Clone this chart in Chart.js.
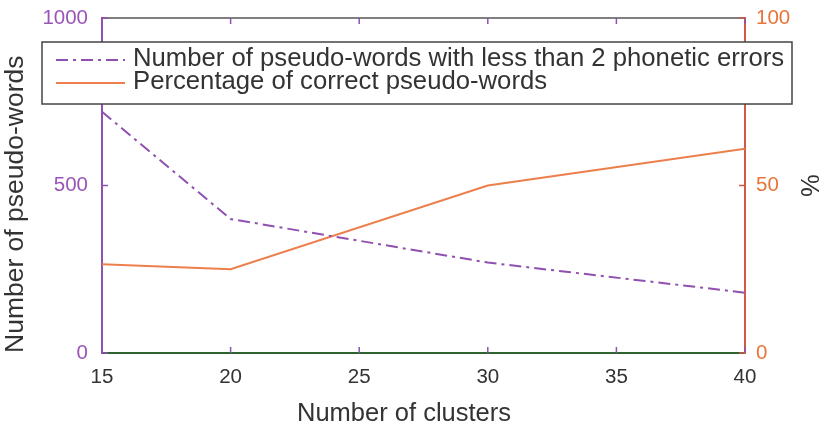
<!DOCTYPE html>
<html>
<head>
<meta charset="utf-8">
<script src="https://cdn.jsdelivr.net/npm/chart.js@4.4.1/dist/chart.umd.min.js"></script>
<style>
  html, body { margin: 0; padding: 0; background: #fff; }
  #wrap { width: 824px; height: 432px; }
</style>
</head>
<body>
<div id="wrap"><canvas id="graphique" width="824" height="432"></canvas></div>
<script>
// values
const clusters = [15, 20, 30, 40];
const pseudoWords = [720, 400, 270, 180];
const pctCorrect = [26.5, 25, 50, 61];

const xTicks = [15, 20, 25, 30, 35, 40];
const leftTicks = [0, 500, 1000];
const rightTicks = [0, 50, 100];

const labelPseudo = "Number of pseudo-words with less than 2 phonetic errors";
const labelPct = "Percentage of correct pseudo-words";
const titleX = "Number of clusters";
const titleLeft = "Number of pseudo-words";
const titleRight = "%";

const violet = "#9050b0";
const violetTxt = "#9a55b8";
const orange = "#ec7f4c";
const orangeAxe = "#cf5a48";
const orangeTxt = "#e8743a";
const vert = "#2f6430";
const gris = "#333333";
const police = "'Liberation Sans', Arial, sans-serif";

Chart.defaults.font.family = police;

function fixTicks(vals) {
  return function (scale) { scale.ticks = vals.map(v => ({ value: v })); };
}

// frame, inward ticks, x title and the boxed legend
const cadre = {
  id: "cadre",
  afterDatasetsDraw(chart) {
    const { ctx, chartArea: a, scales } = chart;
    ctx.save();
    ctx.lineWidth = 1.5;
    ctx.strokeStyle = "#555";
    ctx.beginPath();
    ctx.moveTo(a.left, a.top);
    ctx.lineTo(a.right, a.top);
    ctx.stroke();

    ctx.strokeStyle = violet;
    xTicks.forEach(v => {
      const px = scales.x.getPixelForValue(v);
      ctx.beginPath();
      ctx.moveTo(px, a.bottom); ctx.lineTo(px, a.bottom - 6);
      ctx.moveTo(px, a.top); ctx.lineTo(px, a.top + 6);
      ctx.stroke();
    });
    leftTicks.forEach(v => {
      const py = scales.y.getPixelForValue(v);
      ctx.beginPath();
      ctx.moveTo(a.left, py); ctx.lineTo(a.left + 6, py);
      ctx.stroke();
    });
    ctx.strokeStyle = orangeAxe;
    rightTicks.forEach(v => {
      const py = scales.y2.getPixelForValue(v);
      ctx.beginPath();
      ctx.moveTo(a.right, py); ctx.lineTo(a.right - 6, py);
      ctx.stroke();
    });
    ctx.restore();
  },
  afterDraw(chart) {
    const ctx = chart.ctx;
    const ds = chart.data.datasets;
    ctx.save();
    ctx.fillStyle = gris;
    ctx.font = "25.5px " + police;
    ctx.textAlign = "center";
    ctx.textBaseline = "alphabetic";
    ctx.fillText(titleX, 404, 421);

    // legend box
    ctx.fillStyle = "#fff";
    ctx.fillRect(42, 42, 750, 62);
    ctx.strokeStyle = "#444";
    ctx.lineWidth = 1.5;
    ctx.strokeRect(42, 42, 750, 62);
    ctx.font = "25.7px " + police;
    const rows = [{ y: 60, base: 66 }, { y: 83, base: 89 }];
    ds.forEach((d, i) => {
      ctx.strokeStyle = d.borderColor;
      ctx.lineWidth = d.borderWidth;
      ctx.setLineDash(d.borderDash || []);
      ctx.beginPath();
      ctx.moveTo(56, rows[i].y);
      ctx.lineTo(125, rows[i].y);
      ctx.stroke();
      ctx.setLineDash([]);
      ctx.fillStyle = gris;
      ctx.textAlign = "left";
      ctx.fillText(d.label, 133, rows[i].base);
    });
    ctx.restore();
  }
};

const nombre = v => String(v);

new Chart(document.getElementById("graphique"), {
  type: "line",
  data: {
    datasets: [
      {
        label: labelPseudo,
        data: clusters.map((c, i) => ({ x: c, y: pseudoWords[i] })),
        yAxisID: "y",
        borderColor: violet,
        borderWidth: 2,
        borderDash: [12, 5, 3, 5],
        pointRadius: 0,
        tension: 0
      },
      {
        label: labelPct,
        data: clusters.map((c, i) => ({ x: c, y: pctCorrect[i] })),
        yAxisID: "y2",
        borderColor: orange,
        borderWidth: 2,
        pointRadius: 0,
        tension: 0
      }
    ]
  },
  options: {
    responsive: false,
    animation: false,
    events: [],
    layout: { padding: { top: 18, left: 0, right: 0, bottom: 0 } },
    plugins: { legend: { display: false }, tooltip: { enabled: false } },
    scales: {
      x: {
        type: "linear",
        min: 15, max: 40,
        afterBuildTicks: fixTicks(xTicks),
        afterFit: s => { s.height = 79; },
        grid: { display: false, drawTicks: true, tickLength: 12 },
        border: { display: true, color: vert, width: 2 },
        ticks: { color: gris, font: { size: 20.5 }, padding: 0, callback: nombre },
        title: { display: false }
      },
      y: {
        position: "left",
        min: 0, max: 1000,
        afterBuildTicks: fixTicks(leftTicks),
        afterFit: s => { s.width = 102; },
        grid: { display: false, drawTicks: true, tickLength: 14 },
        border: { display: true, color: violet, width: 2 },
        ticks: { color: violetTxt, font: { size: 20.5 }, padding: 0, callback: nombre },
        title: {
          display: true, text: titleLeft, align: "start", color: gris,
          font: { size: 26.5 }, padding: { top: 0, bottom: 0 }
        }
      },
      y2: {
        position: "right",
        min: 0, max: 100,
        afterBuildTicks: fixTicks(rightTicks),
        afterFit: s => { s.width = 79; },
        grid: { display: false, drawTicks: true, tickLength: 11 },
        border: { display: true, color: orangeAxe, width: 2 },
        ticks: { color: orangeTxt, font: { size: 20.5 }, padding: 0, callback: nombre },
        title: {
          display: true, text: titleRight, color: gris,
          font: { size: 25.5 }, padding: { top: 1, bottom: 0 }
        }
      }
    }
  },
  plugins: [cadre]
});
</script>
</body>
</html>
